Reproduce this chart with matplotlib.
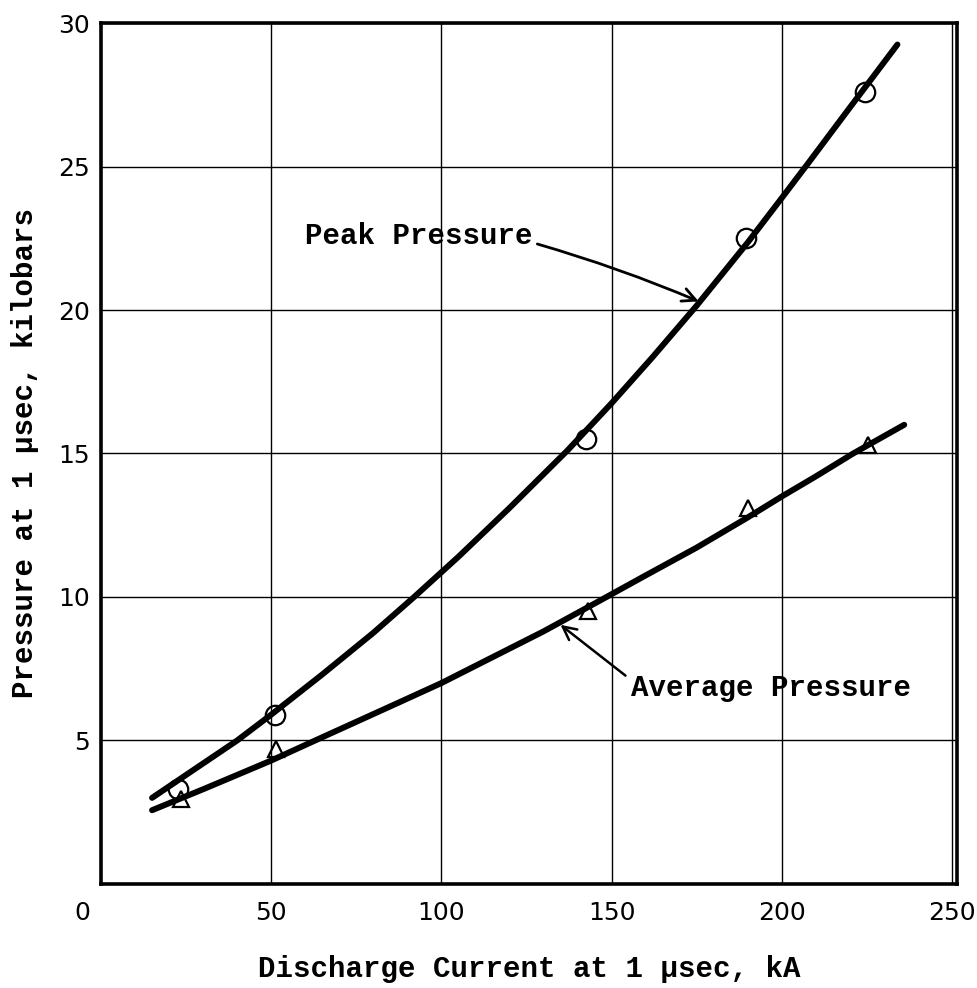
import matplotlib
matplotlib.use("Agg")
import matplotlib.pyplot as plt
import matplotlib.transforms as mtransforms

# ---- data ----
peak_x = [22.5, 51, 142.5, 189.5, 224.5]
peak_y = [3.3, 5.9, 15.5, 22.5, 27.6]
avg_x = [23.5, 51.5, 143, 190, 225.5]
avg_y = [2.95, 4.7, 9.5, 13.1, 15.3]

# hand-drawn fitted curves
peak_curve_x = [15, 30, 40, 50, 65, 80, 92, 105, 120, 137, 150, 162, 175, 190, 200, 208, 220, 234]
peak_curve_y = [3.0, 4.2, 5.0, 5.9, 7.3, 8.75, 10.0, 11.4, 13.1, 15.1, 16.75, 18.35, 20.15, 22.35, 23.9, 25.15, 27.05, 29.25]
avg_curve_x = [15, 30, 40, 50, 62, 75, 88, 100, 115, 130, 147, 160, 175, 190, 200, 210, 221, 236]
avg_curve_y = [2.57, 3.3, 3.8, 4.3, 4.95, 5.65, 6.35, 7.0, 7.9, 8.8, 9.9, 10.75, 11.72, 12.77, 13.5, 14.2, 15.0, 16.0]

x_ticks = [0, 50, 100, 150, 200, 250]
y_ticks = [5, 10, 15, 20, 25, 30]

xlabel = "Discharge Current at 1 \u03bcsec, kA"
ylabel = "Pressure at 1 \u03bcsec, kilobars"

mono = ["Liberation Mono", "DejaVu Sans Mono"]

fig = plt.figure(figsize=(9.77, 9.88), dpi=100)
ax = fig.add_axes([0.1034, 0.1053, 0.8761, 0.8714])

ax.set_xlim(0, 251.5)
ax.set_ylim(0, 30)

for xv in x_ticks[1:]:
    ax.axvline(xv, color="black", lw=1.0, zorder=1)
for yv in y_ticks:
    ax.axhline(yv, color="black", lw=1.0, zorder=1)

ax.plot(peak_curve_x, peak_curve_y, color="black", lw=4.3, solid_capstyle="round",
        solid_joinstyle="round", zorder=3)
ax.plot(avg_curve_x, avg_curve_y, color="black", lw=4.3, solid_capstyle="round",
        solid_joinstyle="round", zorder=3)

ax.plot(peak_x, peak_y, linestyle="none", marker="o", markersize=14, markerfacecolor="none",
        markeredgecolor="black", markeredgewidth=1.6, zorder=4)
ax.plot(avg_x, avg_y, linestyle="none", marker="^", markersize=11, markerfacecolor="none",
        markeredgecolor="black", markeredgewidth=1.6, zorder=4)

for s in ax.spines.values():
    s.set_linewidth(2.6)
    s.set_color("black")

ax.set_xticks(x_ticks)
ax.set_yticks(y_ticks)
ax.set_xticklabels([str(v) for v in x_ticks])
ax.set_yticklabels([str(v) for v in y_ticks])
ax.tick_params(axis="both", length=0, labelsize=18, colors="black")
ax.tick_params(axis="x", pad=12)
ax.tick_params(axis="y", pad=8)

# shift the "0" label left as in the reference
lbl0 = ax.get_xticklabels()[0]
lbl0.set_transform(lbl0.get_transform() + mtransforms.ScaledTranslation(-0.19, 0, fig.dpi_scale_trans))

ax.set_xlabel(xlabel, family=mono, fontsize=21, fontweight="bold", labelpad=22)
ax.set_ylabel(ylabel, family=mono, fontsize=21, fontweight="bold", labelpad=14)

ax.text(60, 22.57, "Peak Pressure", family=mono, fontsize=21, fontweight="bold",
        ha="left", va="center")
ax.annotate("", xy=(175.6, 20.3), xytext=(128.2, 22.3), textcoords="data",
            arrowprops=dict(arrowstyle="->", lw=2.0, color="black", shrinkA=0, shrinkB=0,
                            mutation_scale=24, connectionstyle="arc3,rad=-0.03"))

ax.text(155.6, 6.84, "Average Pressure", family=mono, fontsize=21, fontweight="bold",
        ha="left", va="center")
ax.annotate("", xy=(135, 9.03), xytext=(154.1, 7.26), textcoords="data",
            arrowprops=dict(arrowstyle="->", lw=1.8, color="black", shrinkA=0, shrinkB=0,
                            mutation_scale=24))

fig.savefig("out.png", dpi=100)
